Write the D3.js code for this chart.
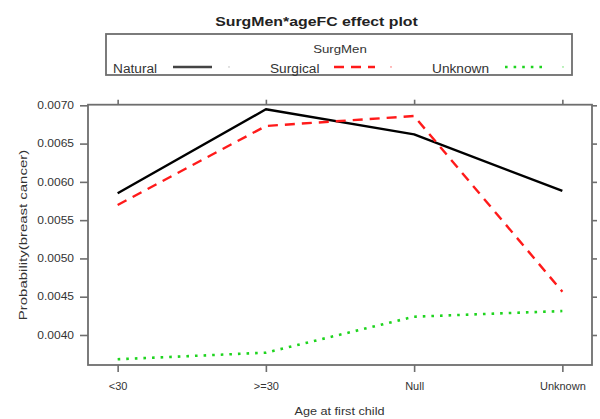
<!DOCTYPE html>
<html>
<head>
<meta charset="utf-8">
<script src="https://cdn.jsdelivr.net/npm/d3@7"></script>
<style>
  html, body { margin: 0; padding: 0; background: #fff; }
  svg { display: block; font-family: "Liberation Sans", Arial, sans-serif; }
</style>
</head>
<body>
<svg id="chart" width="600" height="419"></svg>
<script>
// Effect plot: predicted probability of breast cancer by age at first child,
// one line per type of menopause (SurgMen).
const categories = ["<30", ">=30", "Null", "Unknown"];
const seriesNames = ["Natural", "Surgical", "Unknown"];
const naturalValues = [0.005851, 0.006948, 0.006621, 0.005881];
const surgicalValues = [0.005698, 0.006730, 0.006860, 0.004566];
const unknownValues = [0.003683, 0.003769, 0.004239, 0.004313];
const yTickValues = [0.0040, 0.0045, 0.0050, 0.0055, 0.0060, 0.0065, 0.0070];

const seriesStyles = [
  { color: "#000000", width: 2.4, dash: null },
  { color: "#ff1a1a", width: 2.4, dash: "10,7" },
  { color: "#1ed41e", width: 2.6, dash: "2.6,6" }
];
const seriesValues = [naturalValues, surgicalValues, unknownValues];

const svg = d3.select("#chart");
const box = { left: 88, right: 592, top: 104.7, bottom: 365 };
const frameColor = "#6e6e6e";
const textColor = "#333";

// Widen text along its baseline (the plot device draws glyphs a little wide)
function stretch(sel, k) {
  sel.each(function () {
    const len = this.getComputedTextLength();
    d3.select(this).attr("textLength", len * k).attr("lengthAdjust", "spacingAndGlyphs");
  });
}

const x = d3.scalePoint().domain(categories).range([box.left, box.right]).padding(0.2);
const y = d3.scaleLinear().domain([0.003608, 0.007008]).range([box.bottom, box.top]);

// Title
svg.append("text")
  .attr("x", 316.5).attr("y", 26)
  .attr("text-anchor", "middle")
  .attr("font-size", 13).attr("font-weight", "bold").attr("fill", "#222")
  .text("SurgMen*ageFC effect plot")
  .call(stretch, 1.22);

// Legend
const legend = svg.append("g");
legend.append("rect")
  .attr("x", 106).attr("y", 34).attr("width", 466).attr("height", 41)
  .attr("fill", "none").attr("stroke", frameColor).attr("stroke-width", 1.8);
legend.append("text")
  .attr("x", 340).attr("y", 53).attr("text-anchor", "middle")
  .attr("font-size", 11.5).attr("fill", textColor)
  .text("SurgMen").call(stretch, 1.15);

const legendItems = [
  { textX: 113, lineX0: 173, lineX1: 212, dotX: 229 },
  { textX: 270, lineX0: 334, lineX1: 375, dotX: 391 },
  { textX: 432, lineX0: 505, lineX1: 546, dotX: 563 }
];
legendItems.forEach((it, i) => {
  const st = seriesStyles[i];
  legend.append("text")
    .attr("x", it.textX).attr("y", 73)
    .attr("font-size", 12).attr("fill", textColor)
    .text(seriesNames[i]).call(stretch, 1.14);
  legend.append("line")
    .attr("x1", it.lineX0).attr("x2", it.lineX1).attr("y1", 67).attr("y2", 67)
    .attr("stroke", i === 0 ? "#444" : st.color).attr("stroke-width", st.width)
    .attr("stroke-dasharray", st.dash);
  legend.append("rect")
    .attr("x", it.dotX - 0.75).attr("y", 66.2).attr("width", 1.5).attr("height", 1.5)
    .attr("fill", i === 0 ? "#999" : st.color).attr("opacity", 0.5);
});

// Axes on all four sides of the panel
const axisLeft = d3.axisLeft(y).tickValues(yTickValues).tickFormat(d3.format(".4f"))
  .tickSize(8).tickPadding(6).tickSizeOuter(0);
const axisRight = d3.axisRight(y).tickValues(yTickValues).tickFormat("")
  .tickSize(5).tickSizeOuter(0);
const axisBottom = d3.axisBottom(x).tickSize(7).tickPadding(11).tickSizeOuter(0);
const axisTop = d3.axisTop(x).tickFormat("").tickSize(5).tickSizeOuter(0);

function styleAxis(g) {
  g.select(".domain").remove();
  g.selectAll(".tick line").attr("stroke", frameColor).attr("stroke-width", 1.6);
  g.selectAll(".tick text").attr("fill", textColor).attr("font-size", 10)
    .attr("font-family", "Liberation Sans, Arial, sans-serif");
}

svg.append("g").attr("transform", `translate(${box.left},0)`).call(axisLeft).call(styleAxis)
  .selectAll(".tick text").call(stretch, 1.2);
svg.append("g").attr("transform", `translate(${box.right},0)`).call(axisRight).call(styleAxis);
svg.append("g").attr("transform", `translate(0,${box.bottom})`).call(axisBottom).call(styleAxis)
  .selectAll(".tick text").call(stretch, 1.1);
svg.append("g").attr("transform", `translate(0,${box.top})`).call(axisTop).call(styleAxis);

// Series lines
const line = d3.line().x((d, i) => x(categories[i])).y(d => y(d));
seriesValues.forEach((vals, i) => {
  const st = seriesStyles[i];
  svg.append("path")
    .datum(vals)
    .attr("d", line)
    .attr("fill", "none")
    .attr("stroke", st.color)
    .attr("stroke-width", st.width)
    .attr("stroke-dasharray", st.dash)
    .attr("stroke-linejoin", "round");
});

// Panel frame
svg.append("rect")
  .attr("x", box.left).attr("y", box.top)
  .attr("width", box.right - box.left).attr("height", box.bottom - box.top)
  .attr("fill", "none").attr("stroke", frameColor).attr("stroke-width", 1.8);

// Axis titles
svg.append("text")
  .attr("x", 339.5).attr("y", 415)
  .attr("text-anchor", "middle").attr("font-size", 11).attr("fill", textColor)
  .text("Age at first child").call(stretch, 1.15);
svg.append("text")
  .attr("transform", "translate(26.5,235) rotate(-90)")
  .attr("text-anchor", "middle").attr("font-size", 11.5).attr("fill", textColor)
  .text("Probability(breast cancer)").call(stretch, 1.3);
</script>
</body>
</html>
